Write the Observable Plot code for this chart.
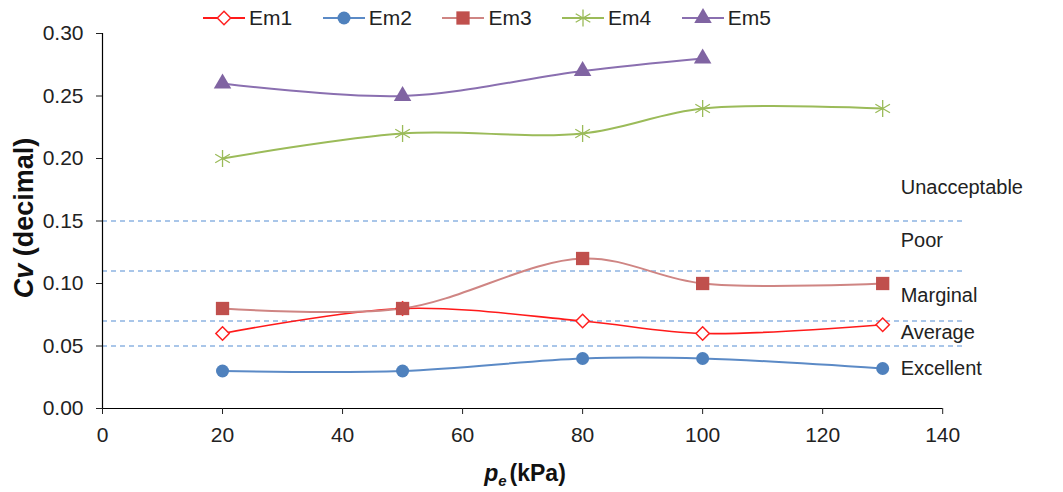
<!DOCTYPE html>
<html><head><meta charset="utf-8">
<script src="https://cdn.jsdelivr.net/npm/d3@7"></script>
<script src="https://cdn.jsdelivr.net/npm/@observablehq/plot@0.6"></script>
<style>
body{margin:0;background:#fff;font-family:"Liberation Sans",Arial,sans-serif;}
#legend{height:20px;position:relative;}
.item{position:absolute;top:7px;height:22px;display:flex;align-items:center;font-size:21px;color:#222;}
.item svg{margin-right:4px;}
#chart svg{overflow:visible;}
</style></head><body>
<div id="legend"></div><div id="chart"></div>
<script>
// ---- data ----
const pressures = [20, 50, 80, 100, 130];
const em1 = [0.06, 0.08, 0.07, 0.06, 0.067];
const em2 = [0.03, 0.03, 0.04, 0.04, 0.032];
const em3 = [0.08, 0.08, 0.12, 0.10, 0.10];
const em4 = [0.20, 0.22, 0.22, 0.24, 0.24];
const em5 = [0.26, 0.25, 0.27, 0.28];
const seriesNames = ["Em1", "Em2", "Em3", "Em4", "Em5"];
const thresholds = [0.05, 0.07, 0.11, 0.15];
const classLabels = ["Unacceptable", "Poor", "Marginal", "Average", "Excellent"];
const classLabelY = [0.177, 0.134, 0.09, 0.061, 0.032];
const classLabelX = 133;
const xTicks = [0, 20, 40, 60, 80, 100, 120, 140];
const yTicks = [0, 0.05, 0.10, 0.15, 0.20, 0.25, 0.30];

// ---- styles ----
const styles = {
  Em1: {line: "#ff1a1a", symbol: "diamond2", fill: "white", stroke: "#ff2020", r: 6, sw: 1.5, lw: 1.6},
  Em2: {line: "#5b8ac6", symbol: "circle", fill: "#4f81bd", stroke: "none", r: 6.5, sw: 0, lw: 2},
  Em3: {line: "#cf8583", symbol: "square", fill: "#c0504d", stroke: "none", r: 7.5, sw: 0, lw: 2},
  Em4: {line: "#9bbb59", symbol: "asterisk", fill: "none", stroke: "#9bbb59", r: 8, sw: 1.3, lw: 2},
  Em5: {line: "#8a6fb0", symbol: "triangle", fill: "#8064a2", stroke: "none", r: 6.5, sw: 0, lw: 2}
};
const values = {Em1: em1, Em2: em2, Em3: em3, Em4: em4, Em5: em5};
const rows = seriesNames.flatMap(s => values[s].map((v, i) => ({series: s, x: pressures[i], y: v})));
const labelRows = classLabels.map((t, i) => ({t, x: classLabelX, y: classLabelY[i]}));

const font = '"Liberation Sans", Arial, sans-serif';
const marks = [
  Plot.ruleY(thresholds, {stroke: "#8db4e2", strokeDasharray: "5,4", strokeWidth: 1.3}),
  Plot.ruleX([0], {y1: 0, y2: 0.30, stroke: "#000", strokeWidth: 1.2}),
  Plot.ruleY([0], {x1: 0, x2: 140, stroke: "#000", strokeWidth: 1.2}),
  Plot.axisY({ticks: yTicks, tickFormat: d3.format(".2f"), tickSize: 6, tickPadding: 13, fontSize: 21, color: "#222", label: null, anchor: "left"}),
  Plot.axisX({ticks: xTicks, tickFormat: d => d, tickSize: 6, tickPadding: 13, fontSize: 21, color: "#222", label: null, anchor: "bottom"}),
];
for (const s of seriesNames) {
  const st = styles[s];
  const d = rows.filter(r => r.series === s);
  marks.push(Plot.line(d, {x: "x", y: "y", stroke: st.line, strokeWidth: st.lw, curve: "catmull-rom"}));
}
for (const s of seriesNames) {
  const st = styles[s];
  const d = rows.filter(r => r.series === s);
  marks.push(Plot.dot(d, {x: "x", y: "y", symbol: () => st.symbol, fill: st.fill, stroke: st.stroke, strokeWidth: st.sw, r: st.r}));
}
marks.push(Plot.text(labelRows, {x: "x", y: "y", text: "t", textAnchor: "start", fontSize: 20, fill: "#222"}));

const plot = Plot.plot({
  width: 1063, height: 472,
  marginLeft: 102, marginRight: 101, marginTop: 13, marginBottom: 84,
  style: {fontFamily: font, background: "white"},
  x: {domain: [0, 143.3]},
  y: {domain: [0, 0.30]},
  symbol: {type: "identity"},
  marks
});
document.getElementById("chart").appendChild(plot);

// axis titles with mixed styling
const svg = d3.select(plot);
const yl = svg.append("text").attr("transform", "translate(33,198) rotate(-90)")
  .attr("text-anchor", "middle").attr("font-size", 27).attr("font-weight", "bold").attr("fill", "#111")
  .attr("font-family", font);
yl.append("tspan").attr("font-style", "italic").text("Cv");
yl.append("tspan").text(" (decimal)");
const xl = svg.append("text").attr("x", 525).attr("y", 461)
  .attr("text-anchor", "middle").attr("font-size", 23).attr("font-weight", "bold").attr("fill", "#111")
  .attr("font-family", font);
xl.append("tspan").attr("font-style", "italic").text("p");
xl.append("tspan").attr("font-size", 15).attr("font-style", "italic").attr("dy", 5).text("e");
xl.append("tspan").attr("dy", -5).attr("dx", 3).text("(kPa)");

// legend
const leg = d3.select("#legend");
const symMap = {diamond2: d3.symbolDiamond2, circle: d3.symbolCircle, square: d3.symbolSquare, asterisk: d3.symbolAsterisk, triangle: d3.symbolTriangle};
seriesNames.forEach((s, i) => {
  const st = styles[s];
  const item = leg.append("div").attr("class", "item").style("left", (203 + i * 119.7) + "px");
  const sv = item.append("svg").attr("width", 42).attr("height", 22);
  sv.append("line").attr("x1", 0).attr("x2", 42).attr("y1", 11).attr("y2", 11).attr("stroke", st.line).attr("stroke-width", 2);
  sv.append("path").attr("transform", "translate(21,11)")
    .attr("d", d3.symbol(symMap[st.symbol], Math.PI * st.r * st.r)())
    .attr("fill", st.fill).attr("stroke", st.stroke).attr("stroke-width", st.sw);
  item.append("span").text(s);
});
</script>
</body></html>
